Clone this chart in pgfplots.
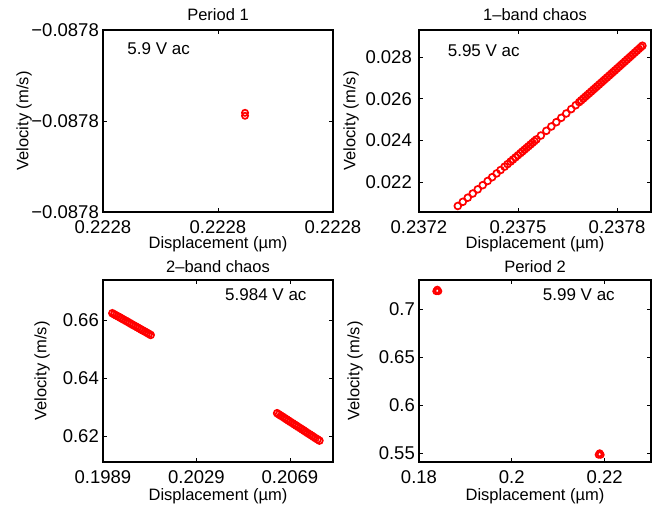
\documentclass[border=0pt]{standalone}
\usepackage{fontspec}
\setmainfont{Liberation Sans}
\usepackage{pgfplots}
\pgfplotsset{compat=1.18}
\definecolor{mred}{RGB}{255,0,0}
\newcommand\ftick{\fontsize{18.5}{20}\selectfont}
\newcommand\flab{\fontsize{16.5}{18}\selectfont}
\pgfplotsset{
  mstyle/.style={
    scale only axis, height=182pt, anchor=south west,
    axis line style={line width=1.1pt, black},
    tick align=inside, major tick length=4pt,
    tick style={black, line width=0.8pt},
    scaled ticks=false,
    ticklabel style={font=\ftick},
    xticklabel style={anchor=base, yshift=-21.5pt},
    yticklabel style={anchor=east, inner sep=0pt, xshift=-4pt},
    every axis x label/.style={at={(axis description cs:0.5,0)}, anchor=base, font=\flab},
    every axis y label/.style={at={(axis description cs:0,0.5)}, rotate=90, anchor=south, inner sep=0pt, font=\flab},
    every axis title/.style={at={(axis description cs:0.5,1)}, anchor=base, font=\flab},
    xlabel={Displacement (µm)}, ylabel={Velocity (m/s)},
  },
  mk/.style={only marks, mark=o, mark size=3.4pt, color=mred, mark options={line width=1.7pt}},
}
\begin{document}
\begin{tikzpicture}
\useasboundingbox (0,0) rectangle (659pt,508pt);
% ---------- Period 1 (offsets: x in pm from 0.2228 um, y in um/s from -0.0878 m/s)
\begin{axis}[mstyle, at={(103pt,296pt)}, width=230pt,
  xmin=-20, xmax=20, ymin=-20, ymax=20,
  xtick={-20,0,20}, xticklabels={0.2228,0.2228,0.2228},
  ytick={-20,0,20}, yticklabels={−0.0878,−0.0878,−0.0878},
  title={Period 1}, title style={yshift=9.5pt},
  xlabel style={yshift=-37pt}, ylabel style={yshift=71pt}]
\addplot[mk, mark size=3.1pt] coordinates {(4.7,1.8) (4.7,1.15)};
\node[anchor=base west, font=\fontsize{17}{19}\selectfont] at (axis description cs:0.091,0.863) {5.9 V ac};
\end{axis}
% ---------- 1-band chaos
\begin{axis}[mstyle, at={(419pt,296pt)}, width=232pt,
  xmin=0.2372, xmax=0.237903, ymin=0.02056, ymax=0.0293,
  xtick={0.2372,0.2375,0.2378}, xticklabels={0.2372,0.2375,0.2378},
  ytick={0.022,0.024,0.026,0.028}, yticklabels={0.022,0.024,0.026,0.028},
  yticklabel style={xshift=-3pt},
  title={1--band chaos}, title style={yshift=9.5pt},
  xlabel style={yshift=-37pt}, ylabel style={yshift=60pt}]
\addplot[mk] coordinates {
(0.2373176,0.020849) (0.2373327,0.021048) (0.2373477,0.021247) (0.2373628,0.021447)
(0.2373779,0.021647) (0.2373930,0.021848) (0.2374080,0.022049) (0.2374216,0.022231)
(0.2374352,0.022413) (0.2374472,0.022574) (0.2374593,0.022737) (0.2374683,0.022859)
(0.2374774,0.022981) (0.2374849,0.023083) (0.2374925,0.023185) (0.2375000,0.023287)
(0.2375075,0.023389) (0.2375136,0.023471) (0.2375196,0.023553) (0.2375256,0.023635)
(0.2375317,0.023717) (0.2375377,0.023799) (0.2375437,0.023881) (0.2375497,0.023964)
(0.2375558,0.024046) (0.2375693,0.024232) (0.2375859,0.024459) (0.2376010,0.024667)
(0.2376161,0.024874) (0.2376311,0.025083) (0.2376462,0.025291) (0.2376613,0.025501)
(0.2376749,0.025689) (0.2376854,0.025836) (0.2376914,0.025921) (0.2376975,0.026005)
(0.2377035,0.026089) (0.2377095,0.026173) (0.2377156,0.026258) (0.2377216,0.026342)
(0.2377276,0.026427) (0.2377337,0.026511) (0.2377397,0.026596) (0.2377457,0.026681)
(0.2377517,0.026766) (0.2377578,0.026851) (0.2377638,0.026936) (0.2377698,0.027021)
(0.2377759,0.027106) (0.2377819,0.027191) (0.2377879,0.027277) (0.2377940,0.027362)
(0.2378000,0.027448) (0.2378060,0.027533) (0.2378120,0.027619) (0.2378181,0.027705)
(0.2378241,0.027790) (0.2378301,0.027876) (0.2378362,0.027962) (0.2378422,0.028048)
(0.2378482,0.028134) (0.2378543,0.028221) (0.2378603,0.028307) (0.2378663,0.028393)
(0.2378723,0.028480) (0.2378769,0.028544)
};
\node[anchor=base west, font=\fontsize{17}{19}\selectfont] at (axis description cs:0.109,0.853) {5.95 V ac};
\end{axis}
% ---------- 2-band chaos
\begin{axis}[mstyle, at={(103pt,46pt)}, width=230pt,
  xmin=0.1989, xmax=0.20874, ymin=0.6113, ymax=0.6737,
  xtick={0.1989,0.2029,0.2069}, xticklabels={0.1989,0.2029,0.2069},
  ytick={0.62,0.64,0.66}, yticklabels={0.62,0.64,0.66},
  title={2--band chaos}, title style={yshift=7.5pt},
  xlabel style={yshift=-38.5pt}, ylabel style={yshift=53pt}]
\addplot[mk] coordinates {
(0.19930,0.66230) (0.19938,0.66194) (0.19946,0.66156) (0.19955,0.66119)
(0.19963,0.66082) (0.19971,0.66044) (0.19979,0.66008) (0.19988,0.65970)
(0.19996,0.65933) (0.20004,0.65896) (0.20012,0.65858) (0.20020,0.65822)
(0.20029,0.65784) (0.20037,0.65747) (0.20045,0.65710) (0.20053,0.65672)
(0.20061,0.65635) (0.20070,0.65598) (0.20078,0.65560) (0.20086,0.65523)
(0.20094,0.65486)
};
\addplot[mk] coordinates {
(0.20635,0.62803) (0.20643,0.62760) (0.20651,0.62717) (0.20660,0.62675)
(0.20668,0.62632) (0.20676,0.62589) (0.20684,0.62547) (0.20692,0.62504)
(0.20701,0.62461) (0.20709,0.62418) (0.20717,0.62376) (0.20725,0.62333)
(0.20734,0.62290) (0.20742,0.62248) (0.20750,0.62205) (0.20758,0.62162)
(0.20766,0.62120) (0.20775,0.62077) (0.20783,0.62034) (0.20791,0.61991)
(0.20799,0.61949) (0.20808,0.61906) (0.20816,0.61863)
};
\node[anchor=base west, font=\fontsize{17}{19}\selectfont] at (axis description cs:0.516,0.89) {5.984 V ac};
\end{axis}
% ---------- Period 2
\begin{axis}[mstyle, at={(419pt,46pt)}, width=232pt,
  xmin=0.18, xmax=0.23, ymin=0.5409, ymax=0.7305,
  xtick={0.18,0.2,0.22}, xticklabels={0.18,0.2,0.22},
  ytick={0.55,0.6,0.65,0.7}, yticklabels={0.55,0.6,0.65,0.7},
  title={Period 2}, title style={yshift=7.5pt},
  xlabel style={yshift=-38.5pt}, ylabel style={yshift=56pt}]
\addplot[mk, mark size=3.1pt] coordinates {
(0.18394,0.72042) (0.18372,0.71886) (0.18416,0.71886)
(0.21894,0.55000) (0.21872,0.54844) (0.21916,0.54844)
};
\node[anchor=base west, font=\fontsize{17}{19}\selectfont] at (axis description cs:0.519,0.886) {5.99 V ac};
\end{axis}
\end{tikzpicture}
\end{document}
